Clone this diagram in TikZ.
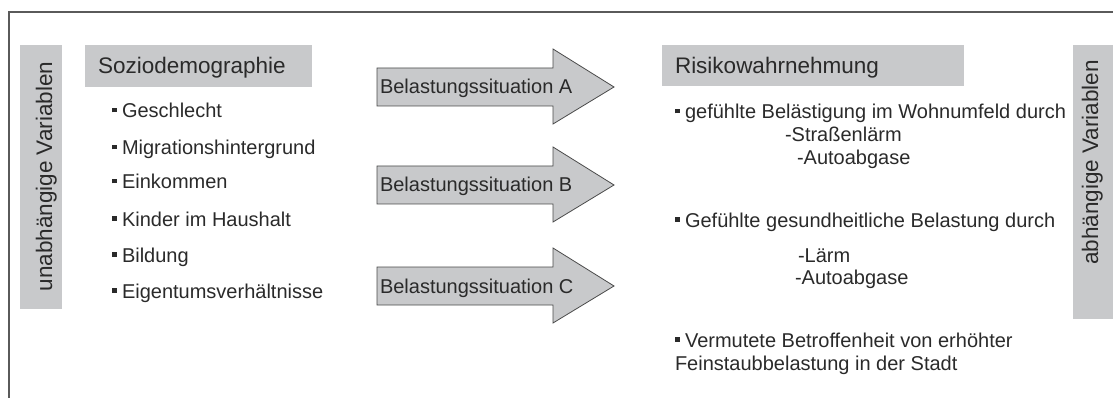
\documentclass[tikz,border=0pt]{standalone}
\usepackage{fontspec}
\setmainfont{Liberation Sans}
\definecolor{boxgray}{HTML}{C8C9CB}
\definecolor{txt}{HTML}{2A2A2A}
\definecolor{framecol}{HTML}{5A5A5A}
\definecolor{arrowline}{HTML}{4A4A4A}
\newcommand{\bul}{\rule[5.5pt]{4.5pt}{4.5pt}\hspace{5.5pt}}
\begin{document}
\begin{tikzpicture}[x=1pt,y=-1pt,
  every node/.style={inner sep=0pt, outer sep=0pt, text=txt},
  graybox/.style={fill=boxgray, draw=none, anchor=north west},
  headtext/.style={font=\fontsize{22.5}{27}\selectfont, anchor=base west},
  itemtext/.style={font=\fontsize{20}{23}\selectfont, anchor=base west},
  sidetext/.style={font=\fontsize{22.5}{27}\selectfont, rotate=90, anchor=base},
  arrowbody/.style={fill=boxgray, draw=arrowline, line width=0.8pt, line join=miter},
  framestyle/.style={draw=framecol, line width=1.6pt}
]
\useasboundingbox (0,0) rectangle (1113,398);
% frame
\coordinate (fbl) at (9,398);
\coordinate (ftl) at (9,12);
\coordinate (ftr) at (1113,12);
\draw[framestyle] (fbl) -- (ftl) -- (ftr);

% side boxes
\node[graybox, minimum width=42pt, minimum height=264pt] (lbox) at (20,45) {};
\node[sidetext] (ltext) at (52,176.5) {unabhängige Variablen};
\node[graybox, minimum width=40pt, minimum height=274pt] (rbox) at (1073,45) {};
\node[sidetext] (rtext) at (1098,162.5) {abhängige Variablen};

% left header
\node[graybox, minimum width=227pt, minimum height=42pt] (sbox) at (85,45) {};
\node[headtext] (stext) at (98,74) {Soziodemographie};
\node[itemtext] (i1) at (112,118) {\bul Geschlecht};
\node[itemtext] (i2) at (112,155) {\bul Migrationshintergrund};
\node[itemtext] (i3) at (112,189) {\bul Einkommen};
\node[itemtext] (i4) at (112,226) {\bul Kinder im Haushalt};
\node[itemtext] (i5) at (112,262) {\bul Bildung};
\node[itemtext] (i6) at (112,298) {\bul Eigentumsverhältnisse};

% arrows
\foreach \n/\yc/\lab in {A/87/Belastungssituation A, B/185/Belastungssituation B, C/286/Belastungssituation C}{
  \draw[arrowbody] (377,\yc-19) -- (553,\yc-19) -- (553,\yc-38) -- (614,\yc) -- (553,\yc+37) -- (553,\yc+19) -- (377,\yc+19) -- cycle;
  \node[itemtext] (arr\n) at (380,\yc+7) {\lab};
}

% right header
\node[graybox, minimum width=302pt, minimum height=41pt] (rhbox) at (662,45) {};
\node[headtext] (rhtext) at (675,74) {Risikowahrnehmung};
\node[itemtext] (r1) at (675,119) {\bul gefühlte Belästigung im Wohnumfeld durch};
\node[itemtext] (r1a) at (785,142) {-Straßenlärm};
\node[itemtext] (r1b) at (797,165) {-Autoabgase};
\node[itemtext] (r2) at (675,227) {\bul Gefühlte gesundheitliche Belastung durch};
\node[itemtext] (r2a) at (798,262) {-Lärm};
\node[itemtext] (r2b) at (795,284) {-Autoabgase};
\node[itemtext] (r3) at (675,347) {\bul Vermutete Betroffenheit von erhöhter};
\node[itemtext] (r3b) at (675,370) {Feinstaubbelastung in der Stadt};
\end{tikzpicture}
\end{document}
